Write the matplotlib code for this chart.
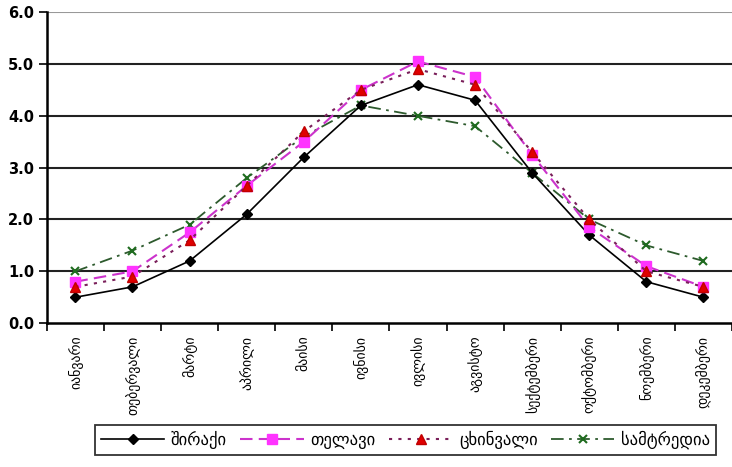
import matplotlib
matplotlib.use("Agg")
import matplotlib.pyplot as plt

months = ["იანვარი", "თებერვალი", "მარტი", "აპრილი", "მაისი", "ივნისი",
          "ივლისი", "აგვისტო", "სექტემბერი", "ოქტომბერი", "ნოემბერი", "დეკემბერი"]
shiraki = [0.5, 0.7, 1.2, 2.1, 3.2, 4.2, 4.6, 4.3, 2.9, 1.7, 0.8, 0.5]
telavi = [0.8, 1.0, 1.75, 2.65, 3.5, 4.5, 5.05, 4.75, 3.25, 1.85, 1.1, 0.7]
tskhinvali = [0.7, 0.9, 1.6, 2.65, 3.7, 4.5, 4.9, 4.6, 3.3, 2.0, 1.0, 0.7]
samtredia = [1.0, 1.4, 1.9, 2.8, 3.6, 4.2, 4.0, 3.8, 2.9, 2.0, 1.5, 1.2]
names = ["შირაქი", "თელავი", "ცხინვალი", "სამტრედია"]
yticks = [0, 1, 2, 3, 4, 5, 6]

fig = plt.figure(figsize=(7.32, 4.67), dpi=100)
ax = fig.add_axes([0.064, 0.308, 0.936, 0.666])
x = list(range(len(months)))

# horizontal grid lines
for v in yticks[1:]:
    ax.axhline(v, color="#222222" if v < 6 else "#999999", lw=1.5, zorder=1)

ax.plot(x, shiraki, color="black", ls="-", lw=1.2, marker="D", ms=5.5, label=names[0], zorder=3)
ax.plot(x, telavi, color="#cc33cc", ls=(0, (6, 3)), lw=1.5, marker="s", ms=6.5,
        mfc="#ff33ff", mec="#ff33ff", label=names[1], zorder=3)
ax.plot(x, tskhinvali, color="#7a1f5a", ls=(0, (1.5, 3)), lw=1.5, marker="^", ms=7.5,
        mfc="#e00000", mec="#c00000", label=names[2], zorder=4)
ax.plot(x, samtredia, color="#2d5a2d", ls=(0, (7, 3, 1.5, 3)), lw=1.3, marker="x", ms=5.5,
        mec="#1f6b1f", mew=1.5, label=names[3], zorder=2)

ax.set_xlim(-0.5, 11.5)
ax.set_ylim(0, 6)
ax.set_yticks(yticks)
ax.set_yticklabels([f"{v:.1f}" for v in yticks], fontsize=10.5, fontweight="bold")
ax.set_xticks([i - 0.5 for i in range(len(months) + 1)])
ax.set_xticklabels([])
ax.set_xticks(x, minor=True)
ax.set_xticklabels(months, minor=True, rotation=90, fontsize=10, va="top")
ax.tick_params(axis="x", which="minor", length=0, pad=9)
ax.tick_params(axis="x", which="major", length=6, width=1.2, direction="out")
ax.tick_params(axis="y", length=6, width=1.2, direction="out", pad=3)

for s in ["top", "right"]:
    ax.spines[s].set_visible(False)
for s in ["left", "bottom"]:
    ax.spines[s].set_linewidth(1.8)

leg = fig.legend(loc="lower center", bbox_to_anchor=(0.554, 0.008), ncol=4, frameon=True,
                 fancybox=False, edgecolor="black", fontsize=12, handlelength=3.8,
                 columnspacing=0.8, handletextpad=0.4, borderpad=0.35)
leg.get_frame().set_linewidth(1.3)

fig.savefig("out.png", dpi=100)
